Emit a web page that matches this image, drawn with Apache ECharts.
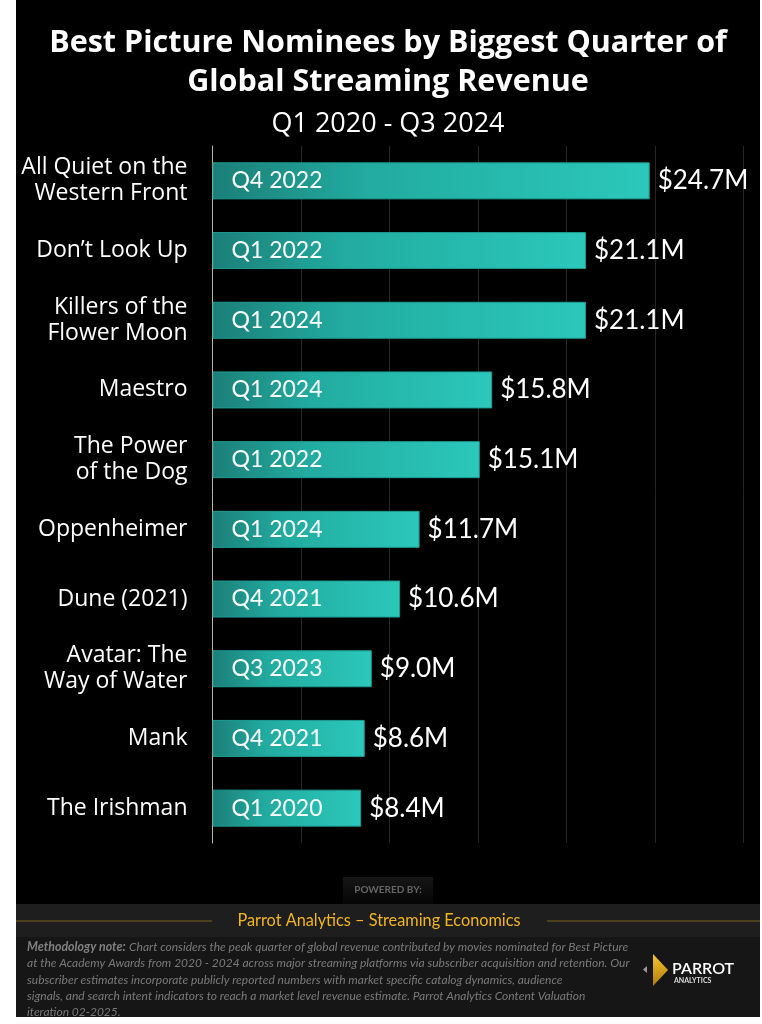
<!DOCTYPE html>
<html>
<head>
    <meta charset="UTF-8">
    <title>Best Picture Nominees by Biggest Quarter of Global Streaming Revenue</title>
    <script src="https://cdn.jsdelivr.net/npm/echarts@6/dist/echarts.min.js"></script>
    <style>
        html, body { margin: 0; padding: 0; background: #fff; }
        #main { width: 762px; height: 1024px; }
    </style>
</head>
<body>
    <div id="main"></div>

    <script type="text/javascript">
        // data
        var movies = ['All Quiet on the\nWestern Front', 'Don\u2019t Look Up', 'Killers of the\nFlower Moon', 'Maestro',
            'The Power\nof the Dog', 'Oppenheimer', 'Dune (2021)', 'Avatar: The\nWay of Water', 'Mank', 'The Irishman'];
        var revenue = [24.7, 21.1, 21.1, 15.8, 15.1, 11.7, 10.6, 9.0, 8.6, 8.4];   // $M
        var peakQuarter = ['Q4 2022', 'Q1 2022', 'Q1 2024', 'Q1 2024', 'Q1 2022', 'Q1 2024', 'Q4 2021', 'Q3 2023', 'Q4 2021', 'Q1 2020'];

        var FONT = 'Lato, "Noto Sans", sans-serif';
        var WIDE = '"Open Sans", "Noto Sans", sans-serif';

        var note = [
            '{b|Methodology note:} {n|Chart considers the peak quarter of global revenue contributed by movies nominated for Best Picture}',
            '{n|at the Academy Awards from 2020 - 2024 across major streaming platforms via subscriber acquisition and retention. Our}',
            '{n|subscriber estimates incorporate publicly reported numbers with market specific catalog dynamics, audience}',
            '{n|signals, and search intent indicators to reach a market level revenue estimate. Parrot Analytics Content Valuation}',
            '{n|iteration 02-2025.}'
        ].join('\n');

        var myChart = echarts.init(document.getElementById('main'));

        myChart.setOption({
            backgroundColor: '#000',
            animation: false,
            title: [{
                text: 'Best Picture Nominees by Biggest Quarter of\nGlobal Streaming Revenue',
                left: 388, top: 24, textAlign: 'center', padding: 0,
                textStyle: { color: '#fff', fontSize: 30.5, fontWeight: 'bold', lineHeight: 39, fontFamily: WIDE }
            }, {
                text: 'Q1 2020 - Q3 2024',
                left: 388, top: 108, textAlign: 'center', padding: 0,
                textStyle: { color: '#fff', fontSize: 27, fontWeight: 'normal', lineHeight: 32, fontFamily: WIDE }
            }],
            grid: { left: 212.5, right: 18.5, top: 146, bottom: 181, containLabel: false, outerBoundsMode: 'none' },
            xAxis: {
                type: 'value', min: 0, max: 30, interval: 5,
                axisLabel: { show: false }, axisTick: { show: false }, axisLine: { show: false },
                splitLine: { show: true, lineStyle: { color: '#262626', width: 1 } }
            },
            yAxis: {
                type: 'category', inverse: true, data: movies,
                axisTick: { show: false },
                axisLine: { show: true, lineStyle: { color: '#b5b5b5', width: 1 } },
                axisLabel: { color: '#fff', fontSize: 23, lineHeight: 26, margin: 25, align: 'right', fontFamily: WIDE }
            },
            series: [{
                type: 'bar',
                data: revenue,
                barWidth: 37,
                itemStyle: {
                    borderColor: '#1f9c92', borderWidth: 1,
                    color: new echarts.graphic.LinearGradient(0, 0, 1, 0, [
                        { offset: 0, color: '#1b7f78' },
                        { offset: 0.35, color: '#22aba0' },
                        { offset: 1, color: '#2bc8bb' }
                    ])
                },
                label: {
                    show: true, position: 'insideLeft', distance: 19,
                    color: '#fff', fontSize: 23, fontFamily: FONT,
                    formatter: function (p) { return peakQuarter[p.dataIndex]; }
                }
            }, {
                type: 'bar',
                data: revenue,
                barWidth: 37,
                barGap: '-100%',
                silent: true,
                itemStyle: { color: 'rgba(0,0,0,0)' },
                label: {
                    show: true, position: 'right', distance: 8,
                    color: '#fff', fontSize: 26, fontFamily: FONT,
                    formatter: function (p) { return '$' + p.value.toFixed(1) + 'M'; }
                }
            }],
            graphic: [
                // white edges around the dark panel
                { type: 'rect', shape: { x: 0, y: 0, width: 16, height: 1024 }, style: { fill: '#fff' } },
                { type: 'rect', shape: { x: 0, y: 1017, width: 762, height: 7 }, style: { fill: '#fff' } },
                { type: 'rect', shape: { x: 760, y: 0, width: 2, height: 1024 }, style: { fill: '#fff' } },
                // powered by tab
                { type: 'rect', shape: { x: 343, y: 877, width: 90, height: 27 },
                  style: { fill: new echarts.graphic.LinearGradient(0, 0, 0, 1, [{ offset: 0, color: '#161616' }, { offset: 1, color: '#050505' }]) } },
                { type: 'text', x: 388, y: 890, style: { text: 'POWERED BY:', fill: '#666', font: 'bold 10px ' + FONT, align: 'center', verticalAlign: 'middle' } },
                // gold band
                { type: 'rect', shape: { x: 16, y: 904, width: 744, height: 33 }, style: { fill: '#1e1e1e' } },
                { type: 'line', shape: { x1: 16, y1: 921, x2: 212, y2: 921 }, style: { stroke: '#7d621f', lineWidth: 1 } },
                { type: 'line', shape: { x1: 547, y1: 921, x2: 760, y2: 921 }, style: { stroke: '#7d621f', lineWidth: 1 } },
                { type: 'text', x: 379, y: 921, style: { text: 'Parrot Analytics \u2013 Streaming Economics', fill: '#f2b51d', font: '16.3px ' + FONT, align: 'center', verticalAlign: 'middle' } },
                // methodology panel
                { type: 'rect', shape: { x: 16, y: 937, width: 744, height: 80 }, style: { fill: '#161616' } },
                { type: 'text', x: 27, y: 939,
                  style: {
                      text: note, lineHeight: 16.3, verticalAlign: 'top',
                      rich: {
                          b: { fill: '#808080', fontStyle: 'italic', fontWeight: 'bold', fontSize: 12.4, fontFamily: FONT, lineHeight: 16.3 },
                          n: { fill: '#7a7a7a', fontStyle: 'italic', fontSize: 12, fontFamily: FONT, lineHeight: 16.3 }
                      }
                  } },
                // logo
                { type: 'polygon', shape: { points: [[643, 969.5], [647, 966], [647, 973]] }, style: { fill: '#9a9a9a' } },
                { type: 'polygon', shape: { points: [[653, 954], [668, 970], [653, 986]] },
                  style: { fill: new echarts.graphic.LinearGradient(0, 0, 0, 1, [{ offset: 0, color: '#f8c72c' }, { offset: 1, color: '#b07a10' }]) } },
                { type: 'text', x: 672, y: 969, style: { text: 'PARROT', fill: '#fff', font: '600 16px ' + FONT, verticalAlign: 'middle' } },
                { type: 'text', x: 674, y: 981, style: { text: 'ANALYTICS', fill: '#ddd', font: 'bold 7px ' + FONT, verticalAlign: 'middle' } }
            ]
        });
    </script>
</body>
</html>
